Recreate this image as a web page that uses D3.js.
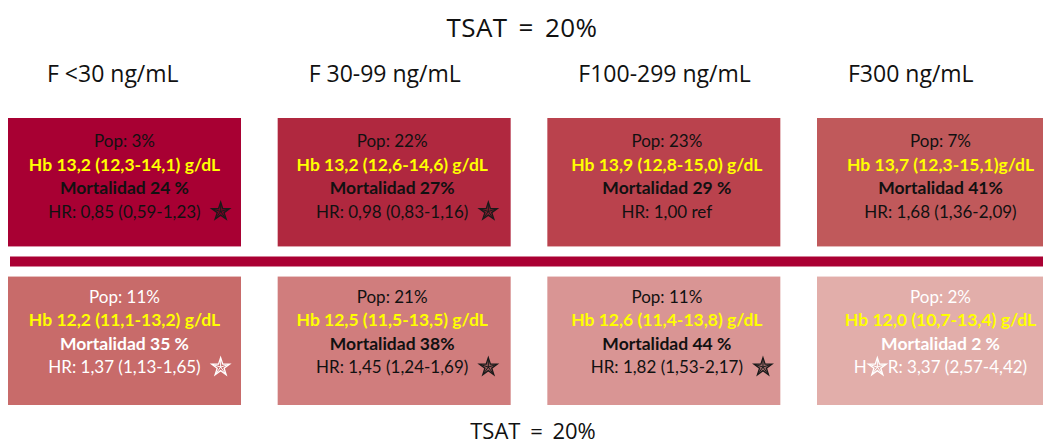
<!DOCTYPE html>
<html><head><meta charset="utf-8">
<script src="https://cdn.jsdelivr.net/npm/d3@7"></script>
<style>
html,body{margin:0;padding:0;background:#fff;}
svg{display:block;}
</style></head>
<body>
<svg id="chart" width="1043" height="446"></svg>
<script>
// ---- data ----
const title = "TSAT = 20%";
const bottomTitle = "TSAT = 20%";
const categories = ["F <30 ng/mL", "F 30-99 ng/mL", "F100-299 ng/mL", "F300 ng/mL"];
const rows = ["top", "bottom"];

const popTop = ["Pop: 3%", "Pop: 22%", "Pop: 23%", "Pop: 7%"];
const hbTop = ["Hb 13,2 (12,3-14,1) g/dL", "Hb 13,2 (12,6-14,6) g/dL", "Hb 13,9 (12,8-15,0) g/dL", "Hb 13,7 (12,3-15,1)g/dL"];
const mortTop = ["Mortalidad 24 %", "Mortalidad 27%", "Mortalidad 29 %", "Mortalidad 41%"];
const hrTop = ["HR: 0,85 (0,59-1,23)", "HR: 0,98 (0,83-1,16)", "HR: 1,00 ref", "HR: 1,68 (1,36-2,09)"];
const starTop = ["end", "end", "none", "none"];

const popBottom = ["Pop: 11%", "Pop: 21%", "Pop: 11%", "Pop: 2%"];
const hbBottom = ["Hb 12,2 (11,1-13,2) g/dL", "Hb 12,5 (11,5-13,5) g/dL", "Hb 12,6 (11,4-13,8) g/dL", "Hb 12,0 (10,7-13,4) g/dL"];
const mortBottom = ["Mortalidad 35 %", "Mortalidad 38%", "Mortalidad 44 %", "Mortalidad 2 %"];
const hrBottom = ["HR: 1,37 (1,13-1,65)", "HR: 1,45 (1,24-1,69)", "HR: 1,82 (1,53-2,17)", "HR: 3,37 (2,57-4,42)"];
const starBottom = ["end", "end", "end", "inside"];

// ---- styles ----
const fillTop = ["#A80033", "#B0283F", "#BA424D", "#C0595B"];
const fillBottom = ["#C86B6A", "#D07D7D", "#D99594", "#E2AEAA"];
const textTop = ["#111", "#111", "#111", "#111"];
const textBottom = ["#fff", "#111", "#111", "#fff"];
const hbColor = "#FFFF00";
const barColor = "#AA0033";
const fontBox = "Lato, 'Open Sans', sans-serif";
const fontHead = "'Open Sans', 'Noto Sans', sans-serif";
const textShift = [0, -2, 3, 7];

const svg = d3.select("#chart");

const x = d3.scaleBand().domain(categories).range([8, 1050]).paddingInner(0.136).paddingOuter(0);
const y = d3.scaleBand().domain(rows).range([118, 405]).paddingInner(0.19);

// titles
svg.append("text").attr("x", 522).attr("y", 37).attr("text-anchor", "middle")
  .style("font-family", fontHead).style("font-size", "26px").style("word-spacing", "4px")
  .style("letter-spacing", "0.4px").attr("fill", "#111").text(title);
svg.append("text").attr("x", 533).attr("y", 439).attr("text-anchor", "middle")
  .style("font-family", fontHead).style("font-size", "22px").style("word-spacing", "4px")
  .attr("fill", "#111").text(bottomTitle);

// column headers
svg.selectAll("text.colhead").data(categories).join("text").attr("class", "colhead")
  .attr("x", (d, i) => x(d) + (i === 0 ? 39 : 31)).attr("y", 82)
  .style("font-family", fontHead).style("font-size", "23px").attr("fill", "#111").text(d => d);

// separator bar
svg.append("rect").attr("x", 10).attr("y", 256.5).attr("width", 1040).attr("height", 10).attr("fill", barColor);

const starSize = 100;
const starPath = d3.symbol(d3.symbolStar, starSize)();
function drawStar(g, cx, cy, color, fill) {
  const s = g.append("g").attr("transform", `translate(${cx},${cy})`);
  s.append("path").attr("d", starPath).attr("fill", fill).attr("stroke", color).attr("stroke-width", 1.3)
    .attr("stroke-linejoin", "miter");
  const r = Math.sqrt(starSize * 0.8908130915292852);
  d3.range(5).forEach(i => {
    const a = -Math.PI / 2 + i * 2 * Math.PI / 5;
    s.append("line").attr("x1", 0).attr("y1", 0)
      .attr("x2", Math.cos(a) * r * 0.9).attr("y2", Math.sin(a) * r * 0.9)
      .attr("stroke", color).attr("stroke-width", 1);
  });
}

function drawRow(rowKey, pops, hbs, morts, hrs, stars, fills, tcols, top0) {
  const g = svg.append("g");
  categories.forEach((c, i) => {
    const bx = x(c), by = y(rowKey), bw = x.bandwidth(), bh = y.bandwidth();
    g.append("rect").attr("x", bx).attr("y", by).attr("width", bw).attr("height", bh).attr("fill", fills[i]);
    const cx = bx + bw / 2 + textShift[i];
    const t0 = by + top0;
    const lh = 23.5;
    const base = (sel) => sel.attr("x", cx).attr("text-anchor", "middle")
      .style("font-family", fontBox).style("font-size", "17px");
    base(g.append("text")).attr("y", t0).attr("fill", tcols[i]).text(pops[i]);
    base(g.append("text")).attr("y", t0 + lh).style("font-weight", "bold").style("font-size", "17.5px")
      .attr("fill", hbColor).text(hbs[i]);
    base(g.append("text")).attr("y", t0 + 2 * lh).style("font-weight", "bold").style("font-size", "17.5px")
      .attr("fill", tcols[i]).text(morts[i]);
    const starCol = tcols[i] === "#fff" ? "#fff" : "#1a1a1a";
    const starFill = tcols[i] === "#fff" ? fills[i] : d3.color(fills[i]).darker(0.9);
    if (stars[i] === "inside") {
      const tx = base(g.append("text")).attr("y", t0 + 3 * lh).attr("fill", tcols[i]);
      tx.append("tspan").text(hrs[i].slice(0, 1));
      tx.append("tspan").attr("dx", 21).text(hrs[i].slice(1));
      const p0 = tx.node().getEndPositionOfChar(0).x;
      const p1 = tx.node().getStartPositionOfChar(1).x;
      drawStar(g, (p0 + p1) / 2, t0 + 3 * lh - 6, starCol, starFill);
    } else {
      const tx = base(g.append("text")).attr("y", t0 + 3 * lh).attr("fill", tcols[i]).text(hrs[i]);
      if (stars[i] === "end") {
        const bb = tx.node().getBBox();
        drawStar(g, bb.x + bb.width + 20, t0 + 3 * lh - 6, starCol, starFill);
      }
    }
  });
}

drawRow("top", popTop, hbTop, mortTop, hrTop, starTop, fillTop, textTop, 29);
drawRow("bottom", popBottom, hbBottom, mortBottom, hrBottom, starBottom, fillBottom, textBottom, 26);
</script>
</body></html>
